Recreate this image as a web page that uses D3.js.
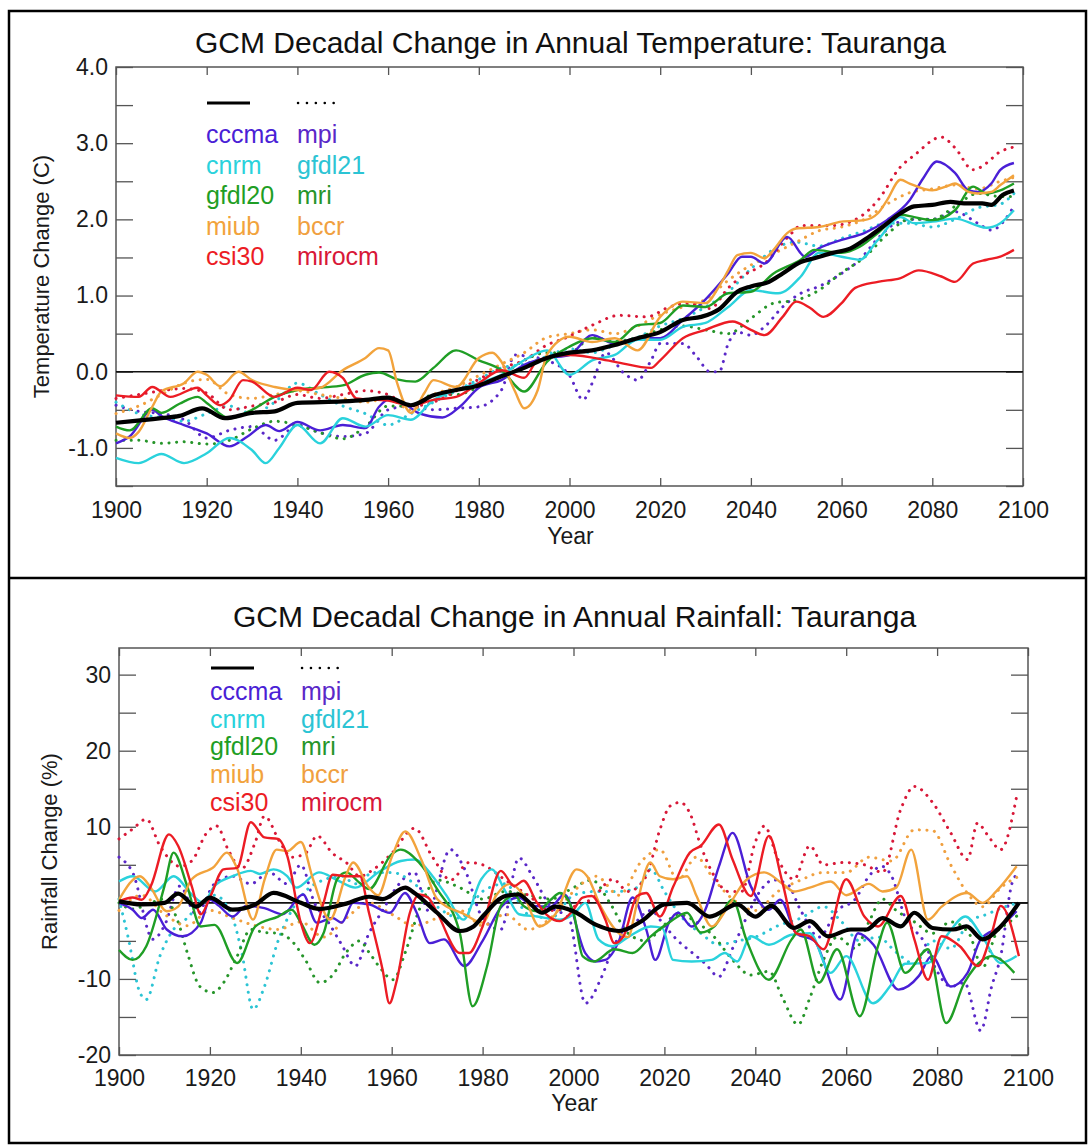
<!DOCTYPE html>
<html>
<head>
<meta charset="utf-8">
<script src="https://cdn.jsdelivr.net/npm/d3@7"></script>
<style>
body { margin: 0; background: #fff; }
text { font-family: "Liberation Sans", Arial, Helvetica, sans-serif; }
</style>
</head>
<body>
<svg id="chart" width="1088" height="1146"></svg>
<script>
// model names, legend order: solid column, dotted column
var solidModels = ["cccma", "cnrm", "gfdl20", "miub", "csi30"];
var dottedModels = ["mpi", "gfdl21", "mri", "bccr", "mirocm"];
var solidColors = ["#4a1fd6", "#2ad2dc", "#1f9e25", "#f2a33c", "#ec1c24"];
var dottedColors = ["#5a28c8", "#2cc4d4", "#26952a", "#f0a040", "#d81838"];

var xTicks = [1900, 1920, 1940, 1960, 1980, 2000, 2020, 2040, 2060, 2080, 2100];
var tempTicks = [-1.5, -1, -0.5, 0, 0.5, 1, 1.5, 2, 2.5, 3, 3.5, 4];
var tempLabels = [-1, 0, 1, 2, 3, 4];
var rainTicks = [-20, -15, -10, -5, 0, 5, 10, 15, 20, 25, 30];
var rainLabels = [-20, -10, 10, 20, 30];

// ---- temperature change (C), [year, value]
var tempMean = [[1900,-0.67],[1910,-0.61],[1914,-0.58],[1919,-0.48],[1924,-0.61],[1930,-0.54],[1935,-0.52],[1940,-0.41],[1950,-0.39],[1955,-0.37],[1960,-0.34],[1965,-0.44],[1970,-0.31],[1975,-0.24],[1980,-0.18],[1985,-0.06],[1990,0.05],[1995,0.18],[2000,0.25],[2005,0.28],[2010,0.35],[2015,0.44],[2020,0.52],[2025,0.68],[2029,0.72],[2033,0.82],[2037,1.05],[2040,1.12],[2044,1.18],[2047,1.29],[2051,1.44],[2054,1.49],[2058,1.56],[2062,1.62],[2066,1.77],[2069,1.90],[2073,2.08],[2076,2.17],[2080,2.19],[2084,2.23],[2087,2.21],[2091,2.21],[2093,2.19],[2095.5,2.32],[2098,2.38]];
var tempCccma = [[1900,-0.94],[1903,-0.85],[1908,-0.50],[1910,-0.58],[1915,-0.70],[1920,-0.81],[1925,-0.98],[1929,-0.85],[1933,-0.70],[1936,-0.78],[1940,-0.66],[1945,-0.77],[1950,-0.70],[1955,-0.74],[1958,-0.46],[1960,-0.37],[1963,-0.40],[1967,-0.55],[1972,-0.60],[1976,-0.45],[1980,-0.21],[1985,-0.11],[1990,0.09],[1995,0.18],[2000,0.22],[2005,0.48],[2010,0.37],[2015,0.44],[2020,0.44],[2025,0.68],[2030,0.95],[2035,1.29],[2038,1.51],[2040,1.51],[2043,1.42],[2048,1.77],[2052,1.51],[2055,1.62],[2060,1.73],[2065,1.82],[2070,1.99],[2075,2.25],[2078,2.54],[2081,2.76],[2085,2.61],[2088,2.38],[2090,2.36],[2093,2.47],[2095,2.65],[2098,2.74]];
var tempCnrm = [[1900,-1.13],[1905,-1.20],[1910,-1.08],[1915,-1.20],[1920,-1.07],[1925,-0.87],[1930,-1.03],[1933,-1.20],[1936,-1.00],[1940,-0.70],[1945,-0.94],[1950,-0.61],[1955,-0.72],[1960,-0.57],[1965,-0.63],[1970,-0.37],[1975,-0.24],[1980,-0.15],[1985,-0.04],[1990,0.15],[1995,0.28],[2000,-0.04],[2005,0.15],[2010,0.22],[2015,0.42],[2020,0.42],[2025,0.59],[2030,0.64],[2035,0.85],[2040,1.07],[2046,1.03],[2051,1.25],[2055,1.56],[2060,1.51],[2064,1.47],[2068,1.73],[2073,2.03],[2076,1.95],[2080,1.97],[2085,2.01],[2092,1.89],[2095,1.95],[2098,2.12]];
var tempGfdl20 = [[1900,-0.72],[1903,-0.77],[1908,-0.48],[1910,-0.54],[1914,-0.42],[1918,-0.33],[1920,-0.41],[1925,-0.61],[1930,-0.50],[1935,-0.33],[1940,-0.24],[1945,-0.21],[1950,-0.18],[1955,-0.04],[1958,-0.01],[1962,-0.10],[1966,-0.13],[1970,0.05],[1975,0.28],[1980,0.15],[1985,0.02],[1990,-0.26],[1995,0.13],[2000,0.33],[2005,0.44],[2010,0.39],[2015,0.61],[2020,0.64],[2025,0.87],[2030,0.85],[2035,1.03],[2040,1.05],[2045,1.29],[2051,1.47],[2054,1.60],[2060,1.56],[2064,1.64],[2068,1.82],[2073,2.06],[2076,2.03],[2080,1.99],[2085,2.12],[2089,2.43],[2092,2.34],[2095,2.38],[2098,2.47]];
var tempMiub = [[1900,-0.81],[1903,-0.87],[1905,-0.79],[1908,-0.46],[1910,-0.26],[1915,-0.15],[1918,0.0],[1920,-0.04],[1923,-0.19],[1927,0.0],[1930,-0.11],[1935,-0.20],[1940,-0.24],[1945,-0.21],[1950,0.02],[1955,0.18],[1958,0.31],[1960,0.28],[1962,-0.15],[1965,-0.54],[1968,-0.28],[1970,-0.11],[1975,-0.20],[1980,0.18],[1983,0.25],[1985,0.13],[1988,-0.26],[1990,-0.48],[1993,-0.24],[1995,0.22],[2000,0.46],[2005,0.39],[2010,0.44],[2015,0.28],[2020,0.72],[2025,0.92],[2030,0.90],[2033,1.12],[2035,1.33],[2037,1.53],[2040,1.56],[2043,1.49],[2045,1.60],[2048,1.82],[2050,1.88],[2055,1.90],[2060,1.97],[2065,1.99],[2068,2.08],[2070,2.25],[2073,2.52],[2075,2.47],[2080,2.38],[2083,2.43],[2085,2.47],[2088,2.36],[2090,2.34],[2093,2.36],[2095,2.45],[2098,2.58]];
var tempCsi30 = [[1900,-0.31],[1905,-0.33],[1908,-0.20],[1912,-0.33],[1918,-0.21],[1920,-0.31],[1923,-0.44],[1925,-0.37],[1928,-0.11],[1930,-0.13],[1935,-0.33],[1940,-0.21],[1943,-0.24],[1947,0.0],[1950,-0.08],[1953,-0.35],[1960,-0.38],[1965,-0.44],[1970,-0.37],[1975,-0.33],[1980,-0.15],[1985,0.02],[1990,-0.08],[1993,0.15],[2000,0.22],[2010,0.13],[2018,0.05],[2020,0.15],[2025,0.44],[2030,0.55],[2036,0.66],[2040,0.55],[2043,0.48],[2047,0.72],[2050,0.92],[2053,0.84],[2056,0.72],[2060,0.90],[2063,1.10],[2068,1.18],[2073,1.23],[2077,1.33],[2082,1.25],[2085,1.18],[2089,1.42],[2092,1.47],[2095,1.51],[2098,1.60]];
var tempMpi = [[1900,-0.44],[1905,-0.52],[1910,-0.55],[1915,-0.63],[1920,-0.87],[1925,-0.77],[1930,-0.72],[1935,-0.90],[1940,-0.70],[1945,-0.80],[1950,-0.85],[1955,-0.81],[1960,-0.50],[1965,-0.45],[1970,-0.50],[1975,-0.48],[1980,-0.46],[1985,-0.24],[1988,0.22],[1991,0.20],[1995,0.15],[2000,-0.05],[2003,-0.37],[2005,-0.15],[2008,0.25],[2012,-0.02],[2015,-0.11],[2018,0.15],[2020,0.37],[2025,0.37],[2028,0.20],[2031,0.0],[2033,0.0],[2035,0.37],[2037,0.52],[2040,0.48],[2043,0.59],[2047,0.85],[2051,1.03],[2055,1.12],[2060,1.29],[2064,1.47],[2068,1.75],[2072,1.95],[2076,2.00],[2080,2.00],[2085,2.10],[2090,1.95],[2093,1.86],[2098,2.17]];
var tempGfdl21 = [[1900,-0.40],[1905,-0.55],[1910,-0.60],[1915,-0.65],[1920,-0.55],[1925,-0.45],[1930,-0.55],[1935,-0.40],[1940,-0.15],[1945,-0.30],[1950,-0.45],[1955,-0.55],[1960,-0.70],[1965,-0.55],[1970,-0.40],[1975,-0.25],[1980,-0.10],[1985,0.05],[1990,0.10],[1995,0.20],[2000,0.30],[2005,0.25],[2010,0.35],[2015,0.45],[2020,0.60],[2025,0.70],[2030,0.85],[2035,1.05],[2040,1.35],[2046,1.64],[2050,1.70],[2055,1.65],[2060,1.75],[2065,1.85],[2070,1.95],[2075,1.95],[2080,1.90],[2085,2.00],[2090,2.15],[2095,2.20],[2098,2.34]];
var tempMri = [[1900,-0.90],[1905,-0.90],[1910,-0.94],[1915,-0.92],[1920,-0.95],[1925,-0.90],[1930,-0.75],[1935,-0.65],[1940,-0.70],[1945,-0.80],[1950,-0.88],[1955,-0.72],[1960,-0.45],[1965,-0.45],[1970,-0.30],[1975,-0.30],[1980,-0.20],[1985,-0.05],[1990,0.15],[1995,0.25],[2000,0.25],[2005,0.45],[2010,0.40],[2015,0.45],[2020,0.55],[2025,0.60],[2030,0.55],[2035,0.50],[2040,0.70],[2045,0.90],[2050,0.94],[2055,1.07],[2060,1.30],[2065,1.50],[2070,1.80],[2075,2.00],[2080,2.00],[2085,2.17],[2090,2.34],[2095,2.30],[2098,2.30]];
var tempBccr = [[1900,-0.55],[1905,-0.45],[1910,-0.30],[1915,-0.15],[1920,-0.10],[1925,-0.30],[1930,-0.35],[1935,-0.30],[1940,-0.25],[1945,-0.30],[1950,-0.35],[1955,-0.40],[1960,-0.35],[1965,-0.50],[1970,-0.30],[1975,-0.20],[1980,-0.05],[1985,0.10],[1990,0.25],[1995,0.45],[2000,0.50],[2005,0.55],[2010,0.50],[2015,0.60],[2020,0.75],[2025,0.85],[2030,0.95],[2035,1.20],[2040,1.40],[2045,1.55],[2050,1.70],[2055,1.85],[2060,1.90],[2065,2.00],[2070,2.20],[2075,2.35],[2080,2.40],[2085,2.45],[2090,2.40],[2095,2.50],[2098,2.55]];
var tempMirocm = [[1900,-0.35],[1905,-0.30],[1910,-0.25],[1915,-0.22],[1920,-0.28],[1925,-0.50],[1930,-0.45],[1935,-0.40],[1940,-0.30],[1945,-0.35],[1950,-0.30],[1955,-0.25],[1960,-0.30],[1965,-0.45],[1970,-0.40],[1975,-0.25],[1980,-0.10],[1985,0.05],[1990,0.15],[1995,0.35],[1999,0.44],[2005,0.61],[2011,0.74],[2017,0.72],[2022,0.85],[2026,0.90],[2031,0.83],[2035,1.10],[2038,1.25],[2043,1.42],[2049,1.82],[2051,1.92],[2058,1.92],[2064,2.03],[2068,2.25],[2073,2.69],[2076,2.84],[2082,3.08],[2085,2.94],[2089,2.65],[2092,2.74],[2094.5,2.87],[2098,2.95]];

// ---- rainfall change (%), [year, value]
var rainMean = [[1900,0.2],[1905,-0.2],[1910,0.0],[1913,1.2],[1917,-0.5],[1920,0.7],[1925,-0.9],[1930,-0.2],[1934,1.3],[1940,0.0],[1944,-0.8],[1950,-0.1],[1955,0.8],[1958,0.5],[1963,2.0],[1965,1.3],[1970,-1.3],[1975,-3.7],[1978,-3.1],[1980,-1.8],[1985,0.9],[1988,1.1],[1990,0.2],[1993,-1.3],[1996,-0.5],[2000,-1.1],[2005,-2.9],[2010,-3.7],[2015,-2.4],[2020,-0.2],[2025,0.0],[2030,-1.8],[2036,-0.2],[2040,-1.8],[2043.5,-0.4],[2048.5,-3.3],[2052,-2.4],[2056,-4.4],[2061,-3.5],[2064.5,-3.5],[2068,-2.0],[2072,-3.1],[2075,-1.3],[2079,-3.3],[2083.5,-3.5],[2086.5,-3.1],[2090,-4.8],[2094,-3.1],[2098,0.0]];
var rainCccma = [[1900,0.0],[1903,-0.9],[1905,-2.0],[1907.5,-0.9],[1910.5,-3.5],[1914,-4.4],[1918,-2.6],[1920,0.4],[1922,-0.4],[1925,-1.8],[1928,-0.4],[1932,-0.7],[1936,-1.5],[1940.5,1.1],[1943.5,-2.6],[1947,-2.0],[1949,-2.6],[1951.5,0.0],[1955,-0.2],[1959.6,-1.3],[1962.9,1.3],[1965.5,-1.3],[1968.4,-5.3],[1971.5,-4.8],[1976,-8.3],[1980,-5.0],[1984.3,-0.4],[1988,0.7],[1991,-0.4],[1995,-0.5],[1998,1.1],[2002.6,-6.6],[2004.8,-7.7],[2007,-7.5],[2010,-5.0],[2013,0.7],[2016,-3.5],[2018,-7.5],[2021,-2.6],[2023,-1.3],[2026,-3.1],[2029,-0.9],[2032,4.8],[2035,9.2],[2039,2.2],[2043,-0.9],[2045.5,0.4],[2049,-4.0],[2053,-5.0],[2058.7,-12.7],[2062.6,-4.0],[2066,-5.5],[2071.5,-11.4],[2076,-9.6],[2078.8,-7.0],[2083,-11.0],[2086.7,-9.2],[2089.6,-4.8],[2094,-3.1],[2097.5,-1.1]];
var rainCnrm = [[1900,2.8],[1903,3.5],[1908,1.5],[1912,3.5],[1916,1.1],[1918.5,0.0],[1921,2.2],[1925,3.5],[1929,4.2],[1931,3.8],[1934,4.4],[1937,3.5],[1939,2.0],[1944,4.0],[1948,3.0],[1952,2.0],[1957,4.0],[1962,5.5],[1965,5.7],[1969,3.5],[1972,1.0],[1975.8,-2.2],[1979.7,3.1],[1982,4.4],[1985,1.5],[1988,-1.5],[1992,-1.8],[1997,-2.2],[2000,-1.5],[2002.6,0.0],[2005.5,-4.8],[2008.5,-5.7],[2012,-4.5],[2017,-3.1],[2019.5,-3.3],[2021.9,-7.5],[2026,-7.7],[2030.4,-7.5],[2033.3,-6.6],[2036,-7.7],[2039,-4.4],[2043,-5.5],[2048,-4.2],[2052,-4.0],[2056.6,-9.2],[2060,-7.0],[2065.9,-13.2],[2069.6,-11.0],[2073,-8.0],[2078,-7.9],[2082.5,-4.0],[2086.2,-1.8],[2090,-4.5],[2094,-7.9],[2097.5,-7.0]];
var rainGfdl20 = [[1900,-6.2],[1903,-7.5],[1906,-5.7],[1910,2.2],[1912,6.6],[1915,2.2],[1918,-3.1],[1921,-2.9],[1926,-7.9],[1930,-3.1],[1935,-1.8],[1938,-0.9],[1940,-2.6],[1943,-5.5],[1945,-4.0],[1948,3.1],[1950,4.0],[1953,2.6],[1955,1.8],[1960,6.4],[1962,7.0],[1966,5.3],[1970,1.8],[1975,-4.0],[1977.8,-13.6],[1981,-8.3],[1984,-0.4],[1987,1.0],[1989,-0.4],[1992,-1.1],[1995,0.4],[1997,1.3],[2000,-1.3],[2002,-7.0],[2004.5,-7.7],[2009,-6.1],[2013,-6.6],[2017,-4.4],[2021,-2.6],[2025,-1.3],[2028,-3.9],[2031,-3.1],[2035,0.4],[2038,-4.8],[2043,-10.1],[2048,-4.8],[2050,-3.5],[2054,-10.5],[2058,-6.1],[2063,-14.9],[2067,-5.7],[2069,-2.6],[2073,-9.2],[2078,-6.1],[2082,-15.8],[2086,-10.5],[2090,-7.5],[2092,-7.0],[2097,-9.2]];
var rainMiub = [[1900,0.4],[1904.6,3.5],[1907,2.0],[1910.5,-1.1],[1913,-0.5],[1916,3.1],[1921,4.8],[1923.7,6.6],[1926,4.5],[1929.5,-2.2],[1932,3.0],[1934.7,7.0],[1937,6.8],[1940,8.0],[1942.7,3.1],[1946.4,-2.2],[1950,3.7],[1951.5,5.3],[1955,2.0],[1957,1.0],[1960,6.0],[1963,9.4],[1966.5,5.7],[1970,0.5],[1976,-1.5],[1980,-2.6],[1983,1.0],[1986,2.5],[1989,1.0],[1992.5,-3.1],[1996,-1.5],[2000.7,4.4],[2003,3.5],[2006,-0.5],[2010,-4.0],[2012,-4.5],[2014,0.0],[2016.9,5.3],[2019,3.5],[2021.9,3.1],[2025,3.5],[2027,1.0],[2030.4,-3.1],[2034,-0.5],[2038,3.0],[2042,4.0],[2046,2.5],[2048.5,1.5],[2052,2.0],[2056.6,2.8],[2060,1.0],[2065,2.5],[2068,1.5],[2071,2.0],[2074.3,7.0],[2078,-2.2],[2081,-0.5],[2086.6,1.3],[2090,0.0],[2093,1.5],[2097.5,4.8]];
var rainCsi30 = [[1900,0.2],[1903,0.7],[1905,0.4],[1907,2.2],[1911,9.0],[1913,7.5],[1916,2.2],[1918,-1.5],[1920,0.7],[1923,4.4],[1926,4.6],[1929,10.6],[1932,8.6],[1935,8.4],[1937,6.2],[1940,-2.6],[1942,-5.3],[1945,0.0],[1947,3.7],[1950,3.5],[1953,3.5],[1955,-1.3],[1958,-8.8],[1959.5,-13.2],[1961,-10.5],[1964,-1.3],[1966,1.1],[1968,0.7],[1970,-1.3],[1975,-6.6],[1977,-6.6],[1980,-3.1],[1984,4.2],[1987,2.2],[1989,2.9],[1992,0.0],[1994,-1.5],[1997,-2.4],[2000,-0.9],[2002,0.7],[2004,0.9],[2007,-2.2],[2009,-5.3],[2011,-4.4],[2014,0.9],[2016,1.3],[2019,-1.8],[2022,2.2],[2025.6,6.6],[2028,7.5],[2032,10.3],[2035,5.7],[2039,0.9],[2043,8.8],[2046,2.6],[2049,-4.0],[2052,-4.4],[2055,-6.1],[2060,3.1],[2064,-1.8],[2067,-3.1],[2072,0.9],[2075,-4.8],[2078,-10.1],[2081,-4.4],[2085,-5.7],[2089,-8.3],[2092,-4.0],[2094,-0.4],[2098,-7.0]];
var rainMpi = [[1900,6.0],[1903,4.0],[1907.5,-4.8],[1910,-3.0],[1913.4,2.2],[1917,-1.5],[1921,2.5],[1925,3.5],[1929,2.5],[1933,4.0],[1937,2.5],[1940,5.0],[1943,0.0],[1946,-2.5],[1949,-5.5],[1952,-8.3],[1955,-4.0],[1958,-1.0],[1961,2.0],[1965,4.0],[1968,-1.0],[1972.9,7.0],[1976,4.5],[1980,-2.0],[1984,-3.5],[1988,5.9],[1991,3.5],[1995,-0.5],[1999,-2.0],[2002.6,-13.2],[2006,-10.0],[2009,-5.5],[2013,-3.0],[2017,-1.0],[2020,-3.0],[2023,-5.0],[2026,-6.5],[2029,-8.0],[2032,-9.7],[2035,-6.0],[2038,-2.0],[2041,1.5],[2044,3.0],[2047,2.5],[2050,-1.0],[2054,-4.5],[2058,-1.0],[2062,0.5],[2065,3.5],[2067.8,4.8],[2070,3.5],[2073,-2.0],[2077,-5.0],[2080,-9.0],[2083,-11.0],[2086,-10.5],[2089.6,-16.8],[2092,-11.0],[2094,-7.0],[2096.5,2.6],[2098,4.0]];
var rainGfdl21 = [[1900,0.5],[1902,-4.5],[1904.6,-11.8],[1906,-12.7],[1909,-7.0],[1912,-3.5],[1915,-2.0],[1918,0.0],[1921,1.0],[1925,-2.0],[1927,-6.5],[1929.5,-14.0],[1932,-11.0],[1935,-5.0],[1938,-1.0],[1941,1.5],[1945,3.0],[1949,3.5],[1952,2.5],[1956,4.0],[1960,4.0],[1965,2.5],[1970,-0.5],[1975,-2.0],[1980,1.5],[1985,2.5],[1990,-1.5],[1995,-2.0],[2000,1.0],[2005,1.5],[2010,1.5],[2014,2.0],[2017,4.4],[2020,1.5],[2024,-2.0],[2028,-4.0],[2032,-5.5],[2036,-5.0],[2040,-4.5],[2045,-3.0],[2050,-2.0],[2055,-0.5],[2059,-2.5],[2063,-5.0],[2067,-4.5],[2071,-6.5],[2075,-8.0],[2079,-5.0],[2083,-6.0],[2087,-2.5],[2091,-1.5],[2095,-0.5],[2098,0.0]];
var rainMri = [[1900,0.0],[1903,-0.8],[1907,0.0],[1910,0.5],[1913,-2.5],[1915,-6.5],[1917.8,-11.0],[1920.7,-11.8],[1923,-10.5],[1926,-7.0],[1929,-3.5],[1932,-3.9],[1935,-4.0],[1938,-5.0],[1941,-7.5],[1944.2,-10.5],[1947,-9.5],[1950,-6.5],[1953,-5.0],[1955,-6.5],[1957.4,-8.5],[1960.3,-10.1],[1963,-6.5],[1966,-1.0],[1970,3.0],[1975,2.0],[1980,0.5],[1985,1.5],[1990,1.0],[1995,0.5],[2000,2.0],[2004,3.0],[2008,0.0],[2012,-4.0],[2016,-5.0],[2019,-3.5],[2023,-1.5],[2027,-2.5],[2031,-4.5],[2035,-7.5],[2039,-9.5],[2043,-9.0],[2046,-12.5],[2049.4,-16.0],[2052,-12.5],[2055,-7.5],[2058,-4.5],[2062,-6.0],[2065,-2.5],[2068,0.5],[2071,-1.0],[2075,-2.5],[2079,-4.0],[2083,-2.5],[2087,-4.0],[2090,-8.5],[2093,-4.0],[2096,-2.5],[2098,-1.5]];
var rainBccr = [[1900,-1.0],[1905,1.0],[1910,-1.5],[1915,-3.0],[1920,-1.0],[1925,-2.0],[1930,-3.0],[1935,-3.5],[1940,-2.5],[1945,-4.5],[1950,-2.0],[1955,0.0],[1960,-1.5],[1965,-3.0],[1970,-2.0],[1975,-1.0],[1980,-3.0],[1985,-1.5],[1990,-3.5],[1995,-2.0],[2000,1.5],[2005,3.5],[2010,1.0],[2015,5.5],[2019,7.0],[2023,3.0],[2027,6.0],[2031,3.0],[2035,0.5],[2040,-1.0],[2045,1.5],[2050,3.0],[2055,4.0],[2060,4.0],[2065,6.0],[2070,5.5],[2075,9.6],[2079,9.5],[2083,5.0],[2087,1.0],[2090,-0.5],[2094,2.0],[2098,3.5]];
var rainMirocm = [[1900,8.4],[1903,9.7],[1906,11.0],[1909,7.5],[1913.4,4.8],[1916,5.5],[1919.3,9.2],[1921.5,10.1],[1924,7.0],[1927,4.5],[1930,8.0],[1932,11.4],[1935.4,8.0],[1938,6.0],[1941,6.5],[1943.6,8.8],[1947,6.5],[1950,5.3],[1953,3.5],[1956,4.4],[1960,6.5],[1965,9.8],[1969,6.0],[1973,3.0],[1977,5.3],[1980,5.0],[1985,3.0],[1990,1.0],[1995,-1.0],[2000,-0.5],[2004,0.5],[2008.7,3.1],[2012,1.5],[2016,3.5],[2019,9.6],[2021.2,12.7],[2023.5,13.2],[2025.6,11.8],[2028,7.5],[2031,3.5],[2034,1.5],[2037,1.5],[2040,8.0],[2042,10.1],[2045,5.7],[2048.5,3.1],[2052,7.5],[2055,5.0],[2059.5,5.3],[2064,5.0],[2068,4.0],[2072,12.3],[2075,15.3],[2079,13.2],[2083,9.2],[2086.7,5.7],[2088.9,10.5],[2091,9.0],[2094,7.0],[2097.5,14.0]];

var tempSolid = [tempCccma, tempCnrm, tempGfdl20, tempMiub, tempCsi30];
var tempDotted = [tempMpi, tempGfdl21, tempMri, tempBccr, tempMirocm];
var rainSolid = [rainCccma, rainCnrm, rainGfdl20, rainMiub, rainCsi30];
var rainDotted = [rainMpi, rainGfdl21, rainMri, rainBccr, rainMirocm];

var svg = d3.select("#chart");

// outer boxes
svg.append("rect")
    .attr("x", 9).attr("y", 11)
    .attr("width", 1077).attr("height", 1132)
    .attr("fill", "none").attr("stroke", "#000").attr("stroke-width", 2.5);
svg.append("line")
    .attr("x1", 9).attr("x2", 1086).attr("y1", 578).attr("y2", 578)
    .attr("stroke", "#000").attr("stroke-width", 2.5);

// plain hyphen for negatives, as in the original
function hyphen(f) {
  return function(d) { return f(d).replace("\u2212", "-"); };
}

function drawPanel(p) {
  var x = d3.scaleLinear().domain([1900, 2100]).range([p.left, p.right]);
  var y = d3.scaleLinear().domain(p.yDomain).range([p.bottom, p.top]);
  var g = svg.append("g");

  g.append("text")
      .attr("x", (p.left + p.right) / 2 + 1).attr("y", p.titleY)
      .attr("text-anchor", "middle")
      .style("font-size", "30px").attr("fill", "#111")
      .text(p.title);

  // ticks, IDL style, pointing inwards on all sides
  function tidy(sel) {
    sel.select(".domain").remove();
    sel.selectAll(".tick line").attr("stroke", "#555").attr("stroke-width", 1.3);
    sel.selectAll(".tick text").style("font-size", "23px").attr("fill", "#1a1a1a")
       .style("font-family", "'Liberation Sans', Arial, sans-serif");
  }
  g.append("g").attr("transform", "translate(0," + p.bottom + ")")
      .call(d3.axisBottom(x).tickValues(xTicks).tickSize(-8).tickPadding(p.xPad).tickFormat(d3.format("d")))
      .call(tidy);
  g.append("g").attr("transform", "translate(0," + p.top + ")")
      .call(d3.axisTop(x).tickValues(xTicks).tickSize(-8).tickFormat(""))
      .call(tidy);
  var yf = hyphen(p.yFormat);
  g.append("g").attr("transform", "translate(" + p.left + ",0)")
      .call(d3.axisLeft(y).tickValues(p.yTicks).tickSize(-17).tickPadding(8)
        .tickFormat(function(d) { return p.yLabels.indexOf(d) >= 0 ? yf(d) : ""; }))
      .call(tidy);
  g.append("g").attr("transform", "translate(" + p.right + ",0)")
      .call(d3.axisRight(y).tickValues(p.yTicks).tickSize(-17).tickFormat(""))
      .call(tidy);

  g.append("rect")
      .attr("x", p.left).attr("y", p.top)
      .attr("width", p.right - p.left).attr("height", p.bottom - p.top)
      .attr("fill", "none").attr("stroke", "#555").attr("stroke-width", 1.5);

  g.append("line")
      .attr("x1", p.left).attr("x2", p.right)
      .attr("y1", y(0)).attr("y2", y(0))
      .attr("stroke", "#111").attr("stroke-width", 1.6);

  g.append("text")
      .attr("x", (p.left + p.right) / 2 + 1).attr("y", p.yearY)
      .attr("text-anchor", "middle").style("font-size", "23px").attr("fill", "#1a1a1a")
      .text("Year");
  g.append("text")
      .attr("transform", "translate(" + p.yTitleX + "," + ((p.top + p.bottom) / 2) + ") rotate(-90)")
      .attr("text-anchor", "middle").style("font-size", "22px").attr("fill", "#1a1a1a")
      .text(p.yTitle);

  var line = d3.line()
      .x(function(d) { return x(d[0]); })
      .y(function(d) { return y(d[1]); })
      .curve(d3.curveMonotoneX);

  p.dotted.forEach(function(s, i) {
    g.append("path").datum(s)
        .attr("d", line).attr("fill", "none")
        .attr("stroke", dottedColors[i]).attr("stroke-width", 3)
        .attr("stroke-linecap", "round").attr("stroke-dasharray", "0.1,7.5");
  });
  p.solid.forEach(function(s, i) {
    g.append("path").datum(s)
        .attr("d", line).attr("fill", "none")
        .attr("stroke", solidColors[i]).attr("stroke-width", 2.4);
  });
  g.append("path").datum(p.mean)
      .attr("d", line).attr("fill", "none")
      .attr("stroke", "#000").attr("stroke-width", 4.2);

  // legend
  var lg = p.legend;
  g.append("line")
      .attr("x1", lg.x1 + 1).attr("x2", lg.x1 + 44).attr("y1", lg.lineY).attr("y2", lg.lineY)
      .attr("stroke", "#000").attr("stroke-width", 3);
  g.append("line")
      .attr("x1", lg.x2 + 1).attr("x2", lg.x2 + 45).attr("y1", lg.lineY).attr("y2", lg.lineY)
      .attr("stroke", "#000").attr("stroke-width", 2.5)
      .attr("stroke-linecap", "round").attr("stroke-dasharray", "0.1,8.8");
  solidModels.forEach(function(m, i) {
    g.append("text")
        .attr("x", lg.x1).attr("y", lg.row0 + i * lg.step)
        .style("font-size", "25px").attr("fill", solidColors[i]).text(m);
  });
  dottedModels.forEach(function(m, i) {
    g.append("text")
        .attr("x", lg.x2).attr("y", lg.row0 + i * lg.step)
        .style("font-size", "25px").attr("fill", dottedColors[i]).text(m);
  });
}

drawPanel({
  left: 116, right: 1023, top: 67, bottom: 486,
  yDomain: [-1.5, 4], yTicks: tempTicks, yLabels: tempLabels, yFormat: d3.format(".1f"),
  title: "GCM Decadal Change in Annual Temperature: Tauranga", titleY: 53,
  yTitle: "Temperature Change (C)", yTitleX: 49, xPad: 16, yearY: 544,
  mean: tempMean, solid: tempSolid, dotted: tempDotted,
  legend: { x1: 206, x2: 297, lineY: 103, row0: 143, step: 30.5 }
});

drawPanel({
  left: 119, right: 1028, top: 648, bottom: 1055,
  yDomain: [-20, 33.5], yTicks: rainTicks, yLabels: rainLabels, yFormat: d3.format("d"),
  title: "GCM Decadal Change in Annual Rainfall: Tauranga", titleY: 627,
  yTitle: "Rainfall Change (%)", yTitleX: 57, xPad: 15, yearY: 1111,
  mean: rainMean, solid: rainSolid, dotted: rainDotted,
  legend: { x1: 210, x2: 301, lineY: 668, row0: 700, step: 27.7 }
});
</script>
</body>
</html>
